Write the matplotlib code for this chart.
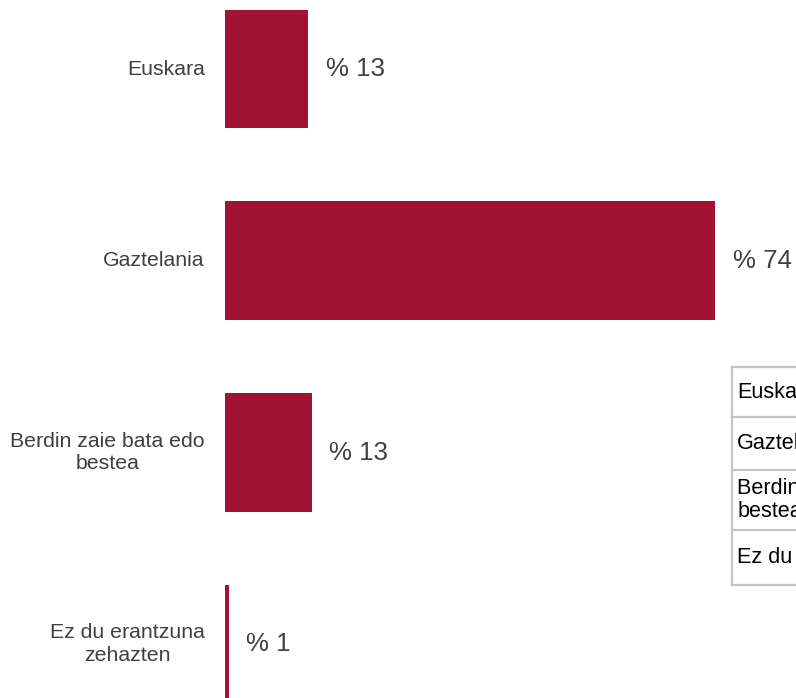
import matplotlib
matplotlib.use("Agg")
import matplotlib.pyplot as plt

plt.rcParams['font.family'] = ['Liberation Sans', 'DejaVu Sans']

# answers and their shares (%)
categories = ["Euskara", "Gaztelania", "Berdin zaie bata edo\nbestea",
              "Ez du erantzuna\nzehazten"]
shares = [12.6, 74.1, 13.1, 0.6]
legend_rows = ["Euskara", "Gaztelania", "Berdin zaie bata edo\nbestea",
               "Ez du erantzuna zehazten"]
legend_heights = [50, 53, 60, 55]

bar_color = "#a21233"
text_color = "#404040"

W, H = 796, 698
fig = plt.figure(figsize=(W / 100, H / 100), dpi=100)

ax = fig.add_axes([225 / W, 0, 1 - 225 / W, 1])
pos = list(range(len(categories)))
ax.barh(pos, shares, height=0.62, color=bar_color)
ax.set_xlim(0, 86.3)
ax.set_ylim(3.28, -0.36)
ax.axis("off")

for y, v, cat in zip(pos, shares, categories):
    ax.annotate("%% %.0f" % v, (v, y), xytext=(12.5, 0), textcoords="offset points",
                va="center", ha="left", fontsize=18.6, color=text_color)
    ax.annotate(cat, (0, y), xytext=(-14.5, 0), textcoords="offset points",
                va="center", ha="right", fontsize=15.3, color=text_color,
                multialignment="center", linespacing=1.25,
                annotation_clip=False)

# legend box, partly cut off at the right edge
lg = fig.add_axes([732 / W, (H - 585) / H, 0.4, 218 / H])
lg.set_xlim(0, 1)
total = sum(legend_heights)
lg.set_ylim(total, 0)
lg.axis("off")
edge = "#c4c4c4"
top = 0
lg.plot([0, 0], [0, total], color=edge, lw=1.6, clip_on=False)
for name, h in zip(legend_rows, legend_heights):
    lg.plot([0, 1], [top, top], color=edge, lw=1.6, clip_on=False)
    lg.text(0.016, top + h / 2, name, va="center", ha="left", fontsize=15.6,
            color="black", linespacing=1.15)
    top += h
lg.plot([0, 1], [top, top], color=edge, lw=1.6, clip_on=False)

fig.savefig("out.png", dpi=100)
